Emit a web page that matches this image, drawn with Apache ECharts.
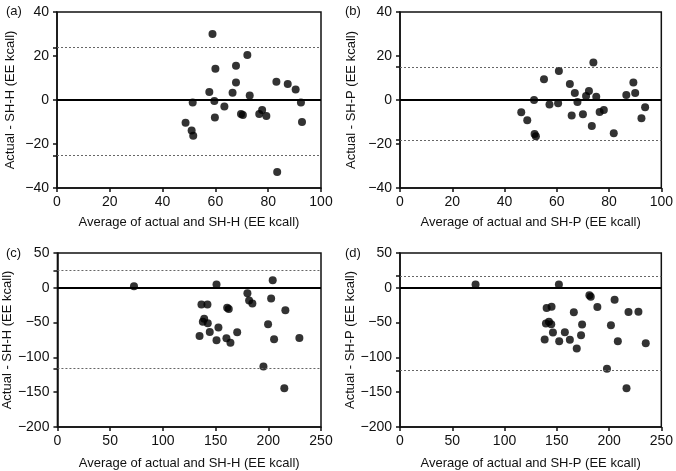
<!DOCTYPE html>
<html><head><meta charset="utf-8">
<script src="https://cdn.jsdelivr.net/npm/echarts@6/dist/echarts.min.js"></script>
<style>html,body{margin:0;padding:0;background:#fff}#c{width:676px;height:471px}</style>
</head><body><div id="c"></div>
<script>
// Panel data: [average, difference]
const panelA = [[48.7,-10.3],[51.0,-13.9],[51.6,-16.2],[51.4,-1.1],[57.7,3.6],[58.9,30.0],[59.6,-0.5],[59.8,-8.0],[60.0,14.2],[63.4,-2.9],[66.5,3.3],[67.8,15.6],[67.8,7.9],[69.7,-6.4],[70.4,-6.8],[72.1,20.5],[73.0,2.1],[76.6,-6.4],[77.7,-4.5],[79.3,-7.3],[83.1,8.3],[83.4,-32.7],[87.4,7.3],[90.4,4.8],[92.4,-1.1],[92.8,-10.0]];
const panelB = [[46.4,-5.6],[48.7,-9.2],[51.3,0],[51.5,-15.5],[52.0,-16.5],[55.1,9.4],[57.2,-2.1],[60.5,-1.5],[60.8,13.2],[65.0,7.3],[65.7,-7.1],[66.9,3.2],[67.9,-0.9],[70.0,-6.5],[71.2,1.8],[72.3,4.1],[73.4,-11.8],[74.0,17.1],[75.1,1.5],[76.4,-5.5],[78.0,-4.5],[81.8,-15.1],[86.6,2.3],[89.3,7.9],[90.0,3.2],[92.4,-8.3],[93.8,-3.3]];
const panelC = [[72.6,2.3],[134.8,-69.1],[136.6,-23.9],[137.9,-48.6],[139.2,-44.3],[142.3,-23.9],[142.6,-51.0],[144.5,-63.4],[150.9,4.7],[150.9,-75.3],[152.7,-57.1],[160.3,-72.4],[161.0,-28.6],[162.5,-30.6],[164.1,-79.1],[170.5,-63.9],[180.2,-7.7],[181.8,-18.1],[184.9,-22.4],[195.4,-112.9],[199.8,-52.4],[202.7,-15.3],[204.2,10.9],[205.5,-73.9],[215.2,-144.3],[216.2,-32.4],[229.5,-72.0]];
const panelD = [[72.3,4.7],[138.4,-74.3],[140.3,-29.1],[145.0,-27.1],[139.6,-51.4],[142.5,-48.6],[144.7,-52.4],[146.3,-64.3],[152.0,4.7],[152.3,-76.7],[157.7,-63.9],[162.5,-74.8],[166.3,-35.3],[169.1,-87.2],[173.2,-68.1],[174.2,-52.9],[181.2,-10.6],[182.5,-12.9],[188.8,-27.6],[198.0,-116.2],[201.8,-53.9],[205.3,-17.1],[208.4,-76.7],[216.7,-144.3],[218.6,-34.8],[228.1,-34.3],[235.1,-79.6]];
// limits of agreement [upper, lower]
const limitsA = [23.8,-25.3];
const limitsB = [15.1,-18.2];
const limitsC = [24.6,-116.2];
const limitsD = [17.1,-119];
const panelLetters = ['(a)','(b)','(c)','(d)'];
const xNames = ['Average of actual and SH-H (EE kcall)','Average of actual and SH-P (EE kcall)','Average of actual and SH-H (EE kcall)','Average of actual and SH-P (EE kcall)'];
const yNames = ['Actual - SH-H (EE kcall)','Actual - SH-P (EE kcall)','Actual - SH-H (EE kcall)','Actual - SH-P (EE kcall)'];
const xTicksTop = [0,20,40,60,80,100];
const yTicksTop = [-40,-20,0,20,40];
const xTicksBottom = [0,50,100,150,200,250];
const yTicksBottom = [-200,-150,-100,-50,0,50];

const FONT = '"Liberation Sans", Arial, Helvetica, sans-serif';
const grids = [
  {left:57, top:12, width:264, height:176},
  {left:400, top:12, width:263, height:176},
  {left:57, top:253, width:264, height:175},
  {left:400, top:253, width:263, height:175}
];
const yGaps = [40, 42, 40, 40];
const datas = [panelA, panelB, panelC, panelD];
const limits = [limitsA, limitsB, limitsC, limitsD];
const fmt = v => String(v).replace('-', '\u2212');

const option = {
  animation:false,
  backgroundColor:'#fff',
  textStyle:{fontFamily:FONT},
  title: panelLetters.map((t,i)=>({text:t, left: i%2===0 ? 1 : 340, top: i<2 ? 0 : 242, textStyle:{fontSize:13, fontWeight:'normal', color:'#111', fontFamily:FONT}})),
  grid: grids.map(g=>Object.assign({containLabel:false, show:true, borderColor:'#111', borderWidth:1.5, backgroundColor:'transparent'}, g)),
  xAxis: grids.map((g,i)=>{
    const ticks = i<2 ? xTicksTop : xTicksBottom;
    return {gridIndex:i, type:'value', min:ticks[0], max:ticks[ticks.length-1], interval:ticks[1]-ticks[0],
      name:xNames[i], nameLocation:'middle', nameGap: i<2 ? 28 : 30,
      nameTextStyle:{fontSize:13, color:'#111', fontFamily:FONT},
      axisLine:{show:true, onZero:false, lineStyle:{color:'#111', width:1.5}},
      axisTick:{show:true, length:4, lineStyle:{color:'#111', width:1.5}},
      axisLabel:{fontSize:14, color:'#111', margin:7, fontFamily:FONT, formatter:fmt},
      splitLine:{show:false}};
  }),
  yAxis: grids.map((g,i)=>{
    const ticks = i<2 ? yTicksTop : yTicksBottom;
    return {gridIndex:i, type:'value', min:ticks[0], max:ticks[ticks.length-1], interval:ticks[1]-ticks[0],
      name:yNames[i], nameLocation:'middle', nameGap:yGaps[i], nameRotate:90,
      nameTextStyle:{fontSize:13, color:'#111', fontFamily:FONT},
      axisLine:{show:true, onZero:false, lineStyle:{color:'#111', width:1.5}},
      axisTick:{show:true, length:4, lineStyle:{color:'#111', width:1.5}, customValues: ticks.concat(limits[i])},
      axisLabel:{fontSize:14, color:'#111', margin:8, fontFamily:FONT, formatter:fmt, customValues: ticks},
      splitLine:{show:false}};
  }),
  series: datas.map((d,i)=>({
    type:'scatter', xAxisIndex:i, yAxisIndex:i, data:d, symbol:'circle', symbolSize:8,
    itemStyle:{color:'#000'}, silent:true, z:3,
    markLine:{silent:true, symbol:'none', label:{show:false}, animation:false,
      data:[
        {yAxis:0, lineStyle:{color:'#000', width:2, type:'solid'}},
        {yAxis:limits[i][0], lineStyle:{color:'#666', width:1, type:[2,2]}},
        {yAxis:limits[i][1], lineStyle:{color:'#666', width:1, type:[2,2]}}
      ]}
  }))
};
const chart = echarts.init(document.getElementById('c'), null, {renderer:'canvas'});
chart.setOption(option);
</script>
</body></html>
